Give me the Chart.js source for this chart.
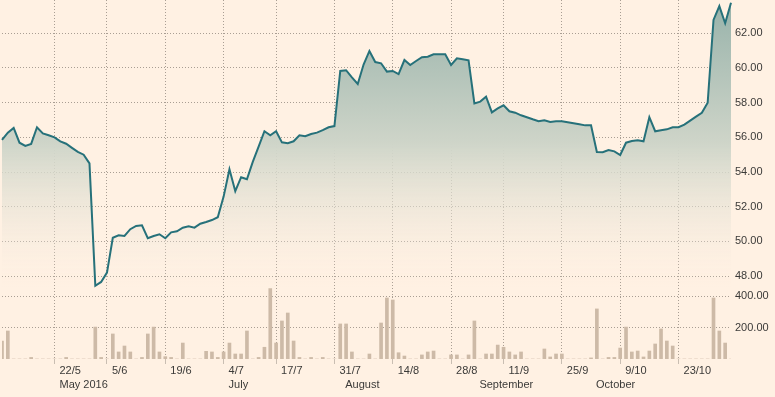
<!DOCTYPE html>
<html>
<head>
<meta charset="utf-8">
<script src="https://cdn.jsdelivr.net/npm/chart.js@4.4.1/dist/chart.umd.min.js"></script>
<style>
  html, body { margin: 0; padding: 0; background: #fff1e3; }
  #wrap { width: 775px; height: 397px; }
</style>
</head>
<body>
<div id="wrap"><canvas id="grafica"></canvas></div>
<script>
// precio de cierre por sesion
const precios = [
  55.85, 56.27, 56.54, 55.69, 55.50, 55.62, 56.58, 56.23, 56.12, 56.00,
  55.77, 55.63, 55.39, 55.16, 55.00, 54.50, 47.44, 47.66, 48.20, 50.21,
  50.35, 50.31, 50.70, 50.89, 50.93, 50.18, 50.31, 50.41, 50.18, 50.52,
  50.58, 50.79, 50.87, 50.79, 51.02, 51.12, 51.23, 51.39, 52.58, 54.16,
  52.89, 53.70, 53.58, 54.58, 55.46, 56.35, 56.12, 56.35, 55.71, 55.66,
  55.77, 56.12, 56.06, 56.19, 56.27, 56.41, 56.58, 56.65, 59.83, 59.87,
  59.46, 59.08, 60.20, 60.98, 60.34, 60.27, 59.79, 59.83, 59.65, 60.46,
  60.17, 60.40, 60.62, 60.65, 60.79, 60.79, 60.79, 60.17, 60.56, 60.50,
  60.44, 57.96, 58.06, 58.34, 57.44, 57.67, 57.85, 57.50, 57.42, 57.27,
  57.16, 57.04, 56.93, 56.98, 56.88, 56.93, 56.93, 56.87, 56.81, 56.75,
  56.69, 56.69, 55.15, 55.14, 55.27, 55.19, 54.98, 55.69, 55.79, 55.83,
  55.77, 57.16, 56.35, 56.41, 56.46, 56.58, 56.58, 56.73, 56.96, 57.19,
  57.42, 58.00, 62.77, 63.57, 62.58, 63.76
];

// volumen por sesion
const volumen = [
  115, 179, 0, 0, 0, 10, 0, 0, 0, 0,
  0, 10, 0, 0, 0, 0, 204, 10, 0, 160,
  45, 83, 45, 0, 10, 160, 204, 45, 15, 10,
  0, 102, 0, 0, 0, 49, 45, 10, 45, 102,
  32, 32, 179, 0, 10, 75, 450, 102, 243, 294,
  115, 10, 0, 10, 0, 10, 0, 0, 224, 224,
  45, 0, 0, 32, 0, 230, 390, 377, 40, 19,
  0, 0, 26, 45, 51, 0, 0, 26, 26, 0,
  26, 243, 0, 32, 32, 89, 75, 45, 26, 45,
  0, 0, 0, 64, 13, 32, 32, 0, 0, 0,
  0, 7, 320, 0, 10, 10, 70, 204, 45, 51,
  13, 51, 96, 192, 115, 83, 0, 0, 0, 0,
  0, 0, 390, 179, 102, 0
];

const fechasIdx = [9, 18, 28, 38, 47, 57, 67, 77, 86, 96, 106, 116];
const fechasTexto = ['22/5', '5/6', '19/6', '4/7', '17/7', '31/7', '14/8', '28/8', '11/9', '25/9', '9/10', '23/10'];
const mesesIdx = [9, 38, 58, 81, 101];
const mesesTexto = ['May 2016', 'July', 'August', 'September', 'October'];
const preciosTicks = [48, 50, 52, 54, 56, 58, 60, 62];
const volumenTicks = [200, 400];

const colorTexto = '#3b3a38';
const colorRejilla = 'rgba(140,130,120,0.75)';

Chart.defaults.font.family = 'Arial, "Liberation Sans", sans-serif';
Chart.defaults.font.size = 11;
Chart.defaults.color = colorTexto;

const etiquetas = precios.map((p, i) => String(i));

function degradado(context) {
    const chart = context.chart;
    const escala = chart.scales.y;
    if (!chart.chartArea || !escala || !isFinite(escala.top) || !isFinite(escala.bottom)) {
        return 'rgba(150,180,170,0.5)';
    }
    const g = chart.ctx.createLinearGradient(0, escala.top, 0, escala.bottom);
    g.addColorStop(0, '#97b2aa');
    g.addColorStop(0.5, '#cfd5c9');
    g.addColorStop(1, 'rgba(255,241,227,0)');
    return g;
}

// quitar el margen extra que Chart.js deja para las etiquetas del eje
function sinMargen(s) {
    s.width = 44;
    s.paddingTop = 0;
    s.paddingBottom = 0;
}

const ctx = document.getElementById('grafica').getContext('2d');

new Chart(ctx, {
    type: 'line',
    data: {
        labels: etiquetas,
        datasets: [{
            label: 'Precio',
            data: precios,
            yAxisID: 'y',
            xAxisID: 'x',
            borderColor: '#26717a',
            borderWidth: 2,
            pointRadius: 0,
            tension: 0,
            fill: 'start',
            backgroundColor: degradado,
            order: 1
        }, {
            type: 'bar',
            label: 'Volumen',
            data: volumen,
            yAxisID: 'y2',
            xAxisID: 'x',
            backgroundColor: '#cdbaa7',
            barThickness: 3,
            order: 2
        }]
    },
    options: {
        responsive: true,
        maintainAspectRatio: false,
        animation: false,
        layout: { padding: { left: 2, top: 0, right: 0, bottom: 0 } },
        plugins: {
            legend: { display: false },
            tooltip: { enabled: false }
        },
        scales: {
            x: {
                type: 'category',
                position: 'bottom',
                weight: 0,
                offset: false,
                grid: {
                    offset: false,
                    drawTicks: true,
                    tickLength: 5,
                    color: (c) => fechasIdx.includes(c.index) ? colorRejilla : 'rgba(0,0,0,0)',
                    tickColor: (c) => fechasIdx.includes(c.index) ? '#c9beb2' : 'rgba(0,0,0,0)'
                },
                border: { display: false, dash: [1, 2] },
                ticks: {
                    autoSkip: false,
                    maxRotation: 0,
                    minRotation: 0,
                    align: 'start',
                    labelOffset: 5,
                    padding: 0,
                    callback: (v, i) => {
                        const k = fechasIdx.indexOf(i);
                        return k >= 0 ? fechasTexto[k] : '';
                    }
                },
                afterFit: (s) => { s.height = 19; }
            },
            x2: {
                type: 'category',
                position: 'bottom',
                weight: 1,
                offset: false,
                grid: { display: false, drawTicks: false },
                border: { display: false },
                ticks: {
                    autoSkip: false,
                    maxRotation: 0,
                    minRotation: 0,
                    align: 'start',
                    labelOffset: 5,
                    padding: 0,
                    callback: (v, i) => {
                        const k = mesesIdx.indexOf(i);
                        return k >= 0 ? mesesTexto[k] : '';
                    }
                },
                afterFit: (s) => { s.height = 19; }
            },
            y: {
                type: 'linear',
                position: 'right',
                stack: 'panel',
                stackWeight: 288,
                min: 47.31,
                max: 63.92,
                grid: { color: colorRejilla, drawTicks: false },
                border: { display: false, dash: [1, 2] },
                ticks: {
                    padding: 4,
                    callback: (v) => v.toFixed(2)
                },
                afterBuildTicks: (s) => { s.ticks = preciosTicks.map(v => ({ value: v })); },
                afterFit: sinMargen
            },
            y2: {
                type: 'linear',
                position: 'right',
                stack: 'panel',
                stackWeight: 71,
                min: 0,
                max: 453.7,
                offset: false,
                grid: { color: colorRejilla, drawTicks: false },
                border: { display: false, dash: [1, 2] },
                ticks: {
                    padding: 4,
                    callback: (v) => v.toFixed(2)
                },
                afterBuildTicks: (s) => { s.ticks = volumenTicks.map(v => ({ value: v })); },
                afterFit: sinMargen
            }
        }
    }
});
</script>
</body>
</html>
